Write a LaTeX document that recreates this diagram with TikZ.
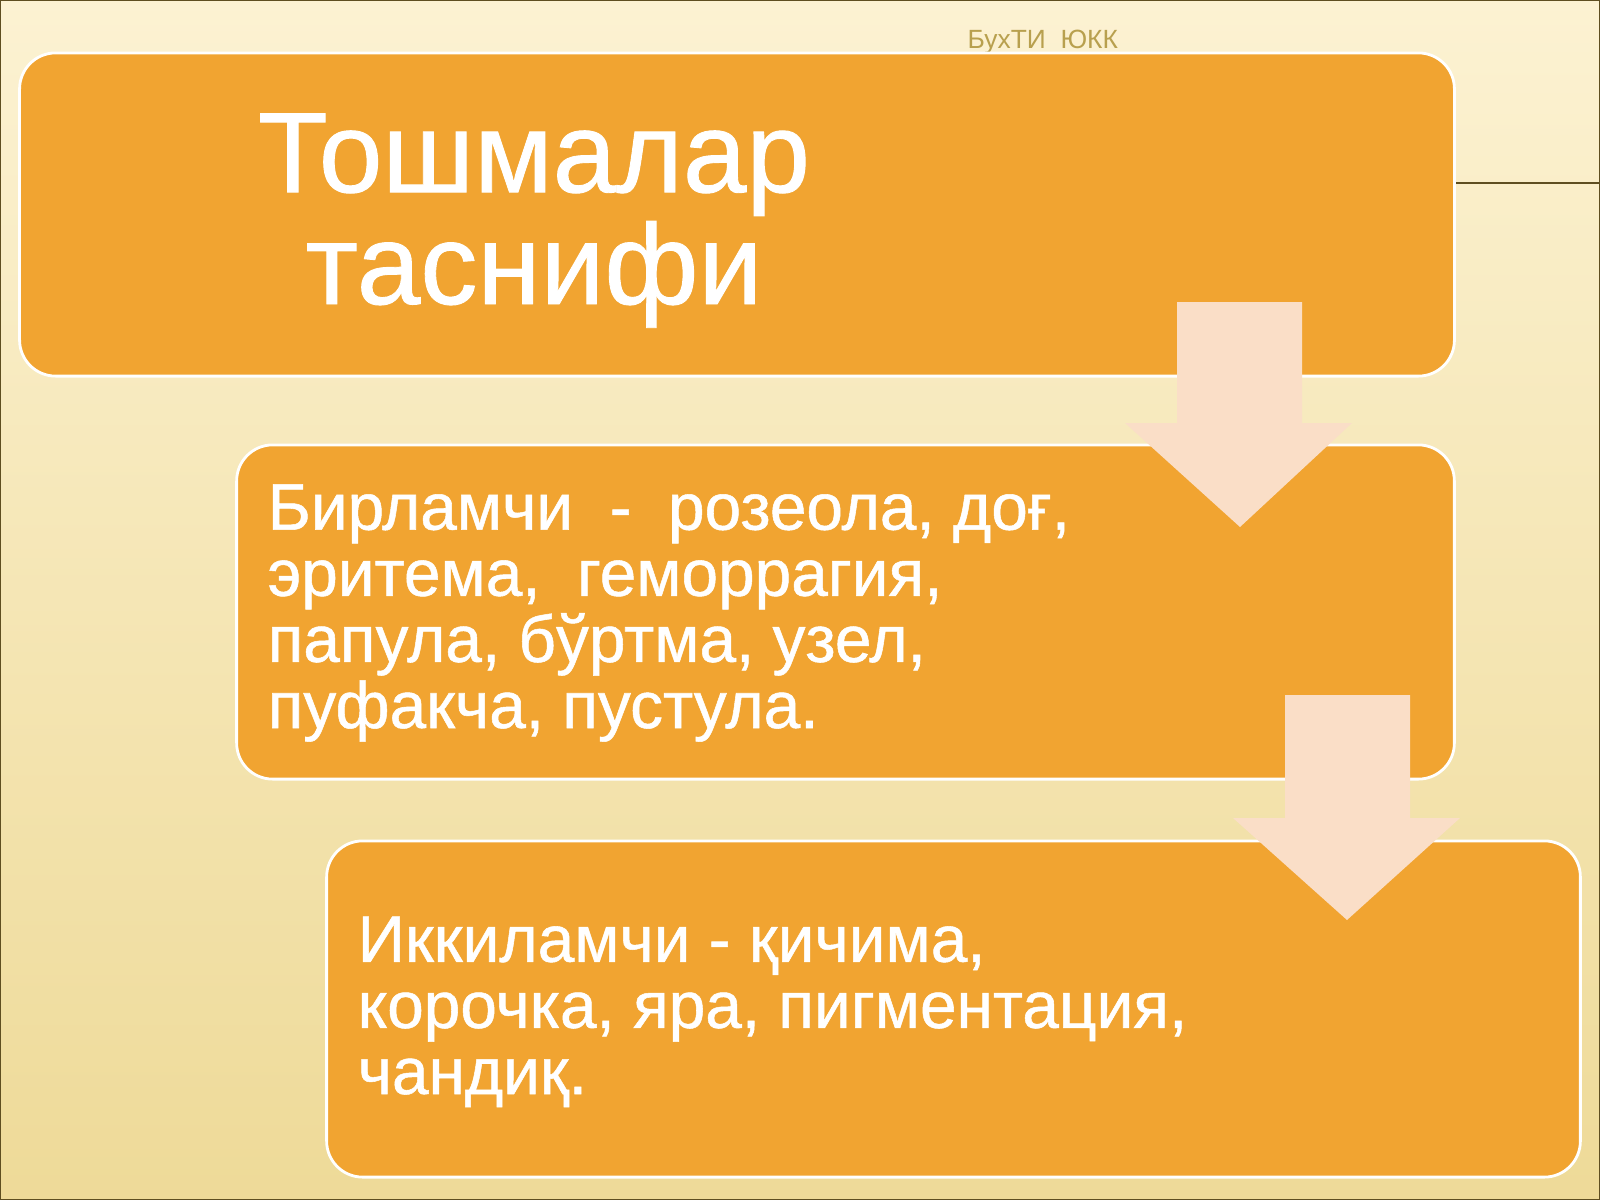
\documentclass[tikz,border=0pt]{standalone}
\usepackage{fontspec}
\setmainfont{Liberation Sans}
\newfontfamily\slidefont[FakeBold=0.8]{Liberation Sans}
\usetikzlibrary{positioning}
\definecolor{boxorange}{HTML}{F1A431}
\definecolor{arrowpeach}{HTML}{FADEC7}
\definecolor{bgtop}{HTML}{FCF2D2}
\definecolor{bgbottom}{HTML}{EEDA98}
\definecolor{frameline}{HTML}{5E4E20}
\definecolor{footgold}{HTML}{B8A04E}

\begin{document}
\begin{tikzpicture}[x=0.01cm, y=-0.01cm,
  box/.style={draw=white, line width=0.8pt, fill=boxorange, rounded corners=0.36cm, inner sep=0pt},
  bodytext/.style={text=white, align=left, inner sep=0pt, anchor=base west, font=\slidefont\fontsize{18.7}{18.8}\selectfont},
  titletext/.style={text=white, align=center, inner sep=0pt, anchor=base, font=\slidefont\fontsize{32.5}{31.8}\selectfont},
  downarrow/.style={fill=arrowpeach}]
\useasboundingbox (0,0) rectangle (1600,1200);
\shade [top color=bgtop, bottom color=bgbottom] (0,0) rectangle (1600,1200);
\draw [frameline, line width=0.6pt] (0,0) rectangle (1600,1200);
\draw [frameline, line width=0.6pt] (1440,183) -- (1600,183);
\node [text=footgold, anchor=base west, inner sep=0pt, font=\fontsize{7.5}{8}\selectfont] (footer) at (967,48) {БухТИ\ \ ЮКК};

\node [box, minimum width=14.34cm, minimum height=3.23cm] (rashbox) at (737,214.5) {};
\node [titletext] (rashtitle) at (534,304) {Тошмалар\\таснифи};

\node [box, minimum width=12.17cm, minimum height=3.34cm] (primbox) at (845.5,612) {};
\node [bodytext] (primtext) at (267,728) {Бирламчи \ - \ розеола, доғ,\\эритема, \ геморрагия,\\папула, бўртма, узел,\\пуфакча, пустула.};

\node [box, minimum width=12.53cm, minimum height=3.36cm] (secbox) at (953.5,1009) {};
\node [bodytext] (sectext) at (357,1094) {Иккиламчи - қичима,\\корочка, яра, пигментация,\\чандиқ.};

\fill [downarrow] (1177,302) -- (1302,302) -- (1302,423) -- (1352,423) -- (1240,527) -- (1125,423) -- (1177,423) -- cycle;
\fill [downarrow] (1285,695) -- (1410,695) -- (1410,818) -- (1460,818) -- (1347,920) -- (1233,818) -- (1285,818) -- cycle;
\end{tikzpicture}
\end{document}
